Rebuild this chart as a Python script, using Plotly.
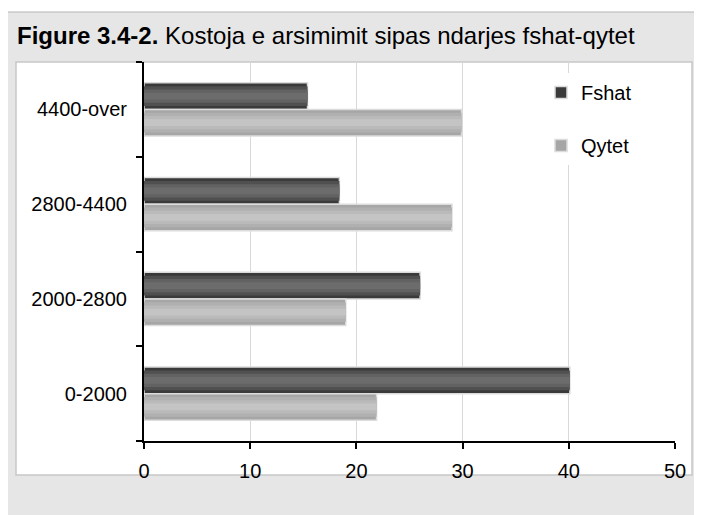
import plotly.graph_objects as go

categories = ['0-2000', '2000-2800', '2800-4400', '4400-over']
fshat = [40.1, 26.0, 18.4, 15.4]
qytet = [21.9, 19.0, 29.0, 29.9]

BAR_W = 0.28

# (series name, values, base offset, gradient layers from edge to centre)
series = [
    ('Fshat', fshat, 0.0, ['#3a3a3a', '#505050', '#626262', '#6c6c6c']),
    ('Qytet', qytet, -BAR_W, ['#a6a6a6', '#b0b0b0', '#bababa', '#c4c4c4']),
]
fractions = [1.0, 0.75, 0.5, 0.25]

fig = go.Figure()

for name, vals, base, colors in series:
    for i, (frac, col) in enumerate(zip(fractions, colors)):
        w = BAR_W * frac
        fig.add_trace(go.Bar(
            x=vals,
            y=categories,
            orientation='h',
            name=name,
            legendgroup=name,
            showlegend=(i == 0),
            width=w,
            offset=base + (BAR_W - w) / 2,
            marker=dict(color=col,
                        line=dict(color='#dcdcdc' if i == 0 else col,
                                  width=1.5 if i == 0 else 0)),
            hoverinfo='skip' if i else None,
        ))

# page has an 8px body margin, so work in page pixels and shift
OFF = 8
W, H = 702 - OFF, 515 - OFF
L, R, T, B = 144 - OFF, 675 - OFF, 62 - OFF, 441 - OFF


def px(x):
    return (x - OFF - L) / (R - L)


def py(y):
    return (B - (y - OFF)) / (B - T)


shapes = [
    dict(type='rect', xref='paper', yref='paper', layer='below',
         x0=px(5), x1=px(720), y0=py(530), y1=py(12),
         fillcolor='#e6e6e6', line=dict(color='#b4b4b4', width=1)),
    dict(type='rect', xref='paper', yref='paper', layer='below',
         x0=px(16), x1=px(692), y0=py(475), y1=py(62),
         fillcolor='white', line=dict(color='#c8c8c8', width=1.5)),
]

fig.update_layout(
    width=W, height=H,
    margin=dict(l=L, r=W - R, t=T, b=H - B),
    paper_bgcolor='white',
    plot_bgcolor='rgba(0,0,0,0)',
    barmode='overlay',
    font=dict(family='Liberation Sans, Arial, sans-serif', size=20, color='black'),
    title=dict(
        text='<b>Figure 3.4-2.</b> Kostoja e arsimimit sipas ndarjes fshat-qytet',
        x=(17 - OFF) / W, xanchor='left', xref='container',
        y=1 - (36 - OFF) / H, yanchor='middle', yref='container',
        font=dict(size=24, color='black'),
    ),
    legend=dict(
        x=px(541), y=py(73), xanchor='left', yanchor='top',
        bgcolor='white', font=dict(size=20),
        tracegroupgap=24, itemwidth=30,
    ),
    shapes=shapes,
)

fig.update_xaxes(
    range=[0, 50], dtick=10, showgrid=True, gridcolor='#d9d9d9', gridwidth=1,
    showline=True, linecolor='black', linewidth=2,
    ticks='outside', ticklen=6, tickwidth=2, tickcolor='black',
    ticklabelstandoff=5, zeroline=False,
)
fig.update_yaxes(
    type='category', categoryorder='array', categoryarray=categories,
    range=[-0.5, 3.5], showgrid=False,
    showline=True, linecolor='black', linewidth=2,
    ticks='outside', tickson='boundaries', ticklen=6, tickwidth=2, tickcolor='black',
    ticklabelstandoff=11,
)

fig.write_html('out.html')
